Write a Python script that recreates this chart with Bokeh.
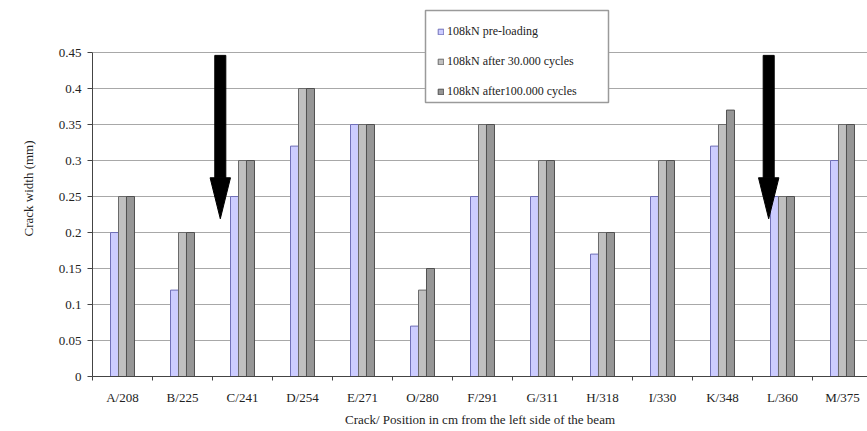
import numpy as np
from bokeh.plotting import figure
from bokeh.models import FixedTicker, Legend, LegendItem
from bokeh.embed import file_html
from bokeh.resources import INLINE

# Crack identifiers with their position (cm from the left side of the beam)
cracks = ["A/208", "B/225", "C/241", "D/254", "E/271", "O/280", "F/291",
          "G/311", "H/318", "I/330", "K/348", "L/360", "M/375"]

# Crack widths (mm) for the three load stages
pre_loading = [0.20, 0.12, 0.25, 0.32, 0.35, 0.07, 0.25, 0.25, 0.17, 0.25, 0.32, 0.25, 0.30]
after_30k = [0.25, 0.20, 0.30, 0.40, 0.35, 0.12, 0.35, 0.30, 0.20, 0.30, 0.35, 0.25, 0.35]
after_100k = [0.25, 0.20, 0.30, 0.40, 0.35, 0.15, 0.35, 0.30, 0.20, 0.30, 0.37, 0.25, 0.35]

series_names = ["108kN pre-loading", "108kN after 30.000 cycles", "108kN after100.000 cycles"]

y_ticks = [0, 0.05, 0.1, 0.15, 0.2, 0.25, 0.3, 0.35, 0.4, 0.45]
y_tick_labels = ["0", "0.05", "0.1", "0.15", "0.2", "0.25", "0.3", "0.35", "0.4", "0.45"]

# Marker arrows pointing at cracks C and L (x in category units)
arrow_x = [2.13, 11.27]
arrow_top = 0.446
arrow_head_base = 0.276
arrow_tip = 0.219

# Legend frame (category units / mm), drawn behind the legend entries
legend_box = dict(left=5.55, right=8.6, bottom=0.3806, top=0.5083)

FONT = "Liberation Serif"
TEXT = "#222222"
AXIS = "#444444"

n = len(cracks)
centers = np.arange(n) + 0.5
bar_w = 0.1333

# The frame reaches the top of the canvas so the legend can sit above the 0.45 line;
# the value axis itself is bounded to 0..0.45.
y_max_axis = 0.45
y_top = 0.45 + 52 / 720

p = figure(width=867, height=431, output_backend="svg", toolbar_location=None,
           x_range=(0, 12.9167), y_range=(0, y_top),
           min_border_left=92, min_border_right=0, min_border_top=0, min_border_bottom=55)
p.outline_line_color = None
p.background_fill_color = "white"
p.border_fill_color = "white"

fills = ["#ccccff", "#c0c0c0", "#969696"]
lines = ["#7070b8", "#6a6a6a", "#505050"]
renderers = []
for k, (vals, off) in enumerate(zip([pre_loading, after_30k, after_100k], [-bar_w, 0, bar_w])):
    r = p.vbar(x=centers + off, top=vals, width=bar_w, bottom=0,
               fill_color=fills[k], line_color=lines[k], line_width=1)
    renderers.append(r)

# Arrows: shaft as a quad, head as a triangle
shaft_half = 0.092
head_half = 0.17
p.quad(left=[a - shaft_half for a in arrow_x], right=[a + shaft_half for a in arrow_x],
       bottom=[arrow_head_base] * 2, top=[arrow_top] * 2, color="black")
p.patches(xs=[[a - head_half, a + head_half, a] for a in arrow_x],
          ys=[[arrow_head_base, arrow_head_base, arrow_tip] for _ in arrow_x], color="black")

# White legend frame covering the grid lines
p.quad(left=[legend_box["left"]], right=[legend_box["right"]],
       bottom=[legend_box["bottom"]], top=[legend_box["top"]],
       fill_color="white", line_color="#9a9a9a", line_width=1.5)

# Y axis
p.yaxis.bounds = (0, y_max_axis)
p.yaxis.ticker = FixedTicker(ticks=y_ticks)
p.yaxis.major_label_overrides = {t: l for t, l in zip(y_ticks, y_tick_labels)}
p.yaxis.minor_tick_line_color = None
p.yaxis.major_tick_in = 0
p.yaxis.major_tick_out = 5
p.yaxis.major_label_standoff = 6
p.yaxis.axis_line_color = AXIS
p.yaxis.major_tick_line_color = AXIS
p.yaxis.major_label_text_font = FONT
p.yaxis.major_label_text_font_size = "13px"
p.yaxis.major_label_text_color = TEXT
p.yaxis.axis_label = "Crack width (mm)"
p.yaxis.axis_label_text_font = FONT
p.yaxis.axis_label_text_font_style = "normal"
p.yaxis.axis_label_text_font_size = "13px"
p.yaxis.axis_label_text_color = TEXT
p.yaxis.axis_label_standoff = 20

# X axis: labels at category centres, tick marks between categories
p.xaxis.ticker = FixedTicker(ticks=list(centers), minor_ticks=list(range(n + 1)))
p.xaxis.major_label_overrides = {float(c): name for c, name in zip(centers, cracks)}
p.xaxis.major_tick_line_color = None
p.xaxis.major_tick_in = 0
p.xaxis.major_tick_out = 4
p.xaxis.minor_tick_in = 0
p.xaxis.minor_tick_out = 4
p.xaxis.minor_tick_line_color = AXIS
p.xaxis.axis_line_color = AXIS
p.xaxis.major_label_standoff = 9
p.xaxis.major_label_text_font = FONT
p.xaxis.major_label_text_font_size = "13px"
p.xaxis.major_label_text_color = TEXT
p.xaxis.axis_label = "Crack/ Position in cm from the left side of the beam"
p.xaxis.axis_label_text_font = FONT
p.xaxis.axis_label_text_font_style = "normal"
p.xaxis.axis_label_text_font_size = "13px"
p.xaxis.axis_label_text_color = TEXT
p.xaxis.axis_label_standoff = 4

p.xgrid.grid_line_color = None
p.ygrid.grid_line_color = "#a8a8a8"
p.ygrid.grid_line_width = 1

legend = Legend(items=[LegendItem(label=name, renderers=[r]) for name, r in zip(series_names, renderers)],
                location=(345, 277), orientation="vertical",
                label_text_font=FONT, label_text_font_size="12px", label_text_color=TEXT,
                glyph_width=7, glyph_height=7, label_height=15, label_standoff=3,
                spacing=15, padding=5, margin=0,
                border_line_color=None, background_fill_alpha=0)
p.add_layout(legend, "center")

open("out.html", "w").write(file_html(p, INLINE))
